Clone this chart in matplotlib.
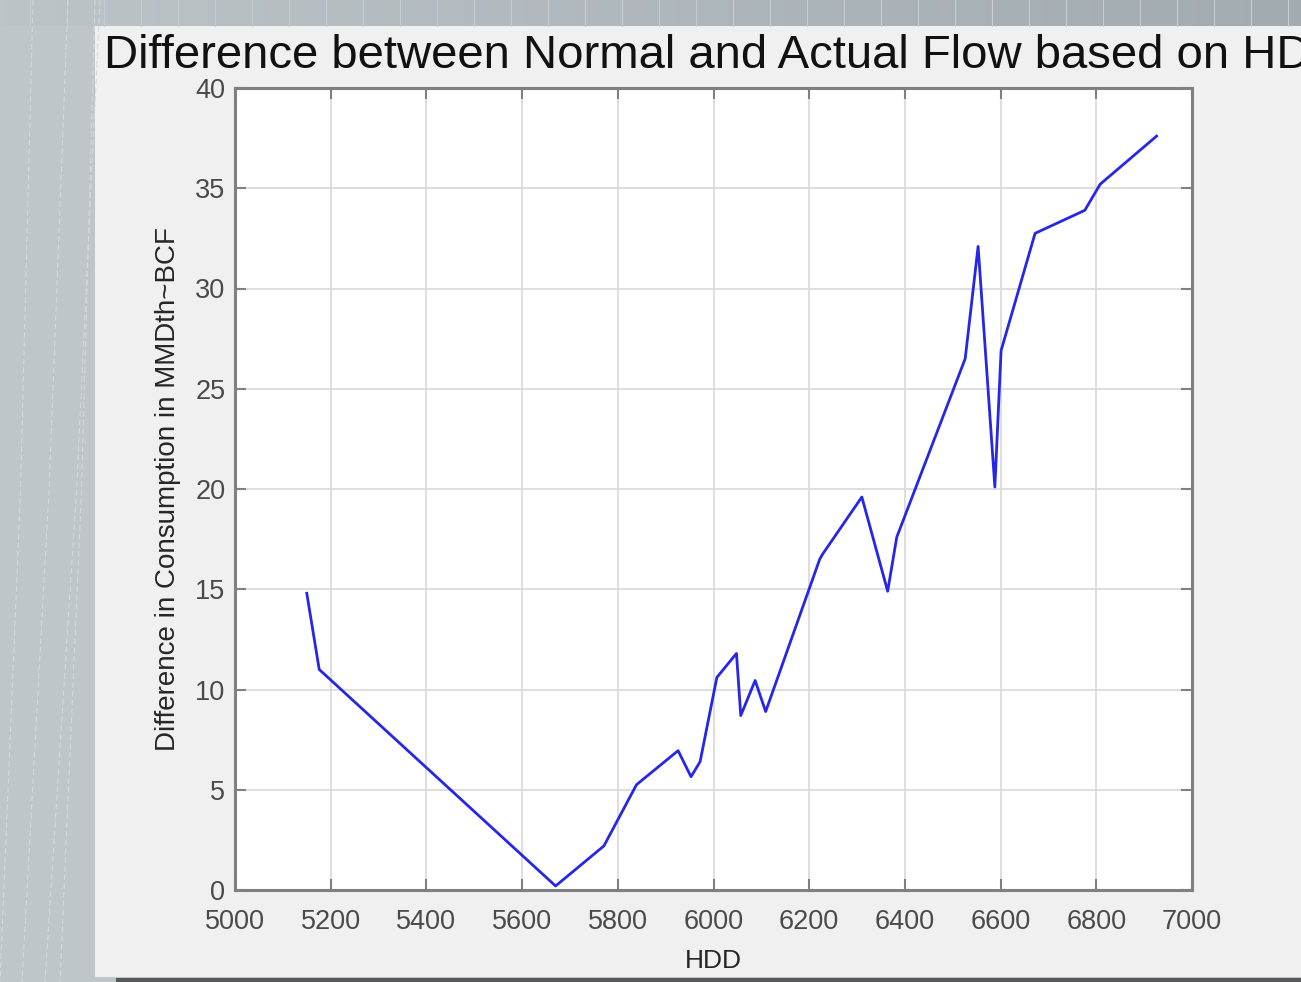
import matplotlib
matplotlib.use("Agg")
import matplotlib.pyplot as plt
import numpy as np
from matplotlib.patches import Rectangle

# HDD vs difference in consumption
hdd = [5150, 5176, 5670, 5771, 5839, 5926, 5953, 5972, 6007, 6048, 6057,
       6087, 6109, 6222, 6228, 6310, 6364, 6383, 6526, 6553, 6588, 6601,
       6672, 6776, 6808, 6926]
diff = [14.8, 11.0, 0.2, 2.2, 5.25, 6.95, 5.65, 6.4, 10.6, 11.8, 8.7,
        10.45, 8.9, 16.5, 16.75, 19.6, 14.9, 17.6, 26.5, 32.1, 20.1, 26.9,
        32.75, 33.9, 35.2, 37.6]

x_ticks = [5000, 5200, 5400, 5600, 5800, 6000, 6200, 6400, 6600, 6800, 7000]
y_ticks = [0, 5, 10, 15, 20, 25, 30, 35, 40]

title = "Difference between Normal and Actual Flow based on HDD"
x_label = "HDD"
y_label = "Difference in Consumption in MMDth~BCF"

plt.rcParams['font.family'] = ['Liberation Sans', 'DejaVu Sans']

W, H = 1301, 982
fig = plt.figure(figsize=(W / 100, H / 100), dpi=100)
fig.patch.set_facecolor('#bfc6ca')

# background (slide) drawn in pixel space
bg = fig.add_axes([0, 0, 1, 1], zorder=-10)
bg.set_xlim(0, W)
bg.set_ylim(H, 0)
bg.axis('off')
# top strip, lighter on the left and darker on the right
grad = np.linspace(0, 1, 256).reshape(1, -1)
bg.imshow(grad, extent=(0, W, 26, 0), aspect='auto',
          cmap=matplotlib.colors.LinearSegmentedColormap.from_list(
              'strip', ['#bcc4c8', '#a2abb0']))
for vx in range(30, W, 37):
    bg.plot([vx, vx], [0, 26], color='#c6cdd0', lw=0.8)
# faint streaks on the left
for x0, x1 in [(33, 0), (68, 22), (100, 45), (95, 60)]:
    bg.plot([x0, (x0 + x1) / 2 + 4, x1], [0, H / 2, H], color='#d4d9dc', lw=0.7,
            ls=(0, (6, 3)))
bg.add_patch(Rectangle((95, 26), W - 95, 951, color='#f0f0f0', lw=0))
bg.add_patch(Rectangle((116, 978), W - 116, 4, color='#55595c', lw=0))
bg.set_xlim(0, W)
bg.set_ylim(H, 0)

ax = fig.add_axes([235 / W, (H - 890) / H, 957 / W, 802 / H])
ax.set_facecolor('white')
ax.plot(hdd, diff, color='#2626e8', lw=2.0)

ax.set_xlim(5000, 7000)
ax.set_ylim(0, 40)
ax.set_xticks(x_ticks)
ax.set_yticks(y_ticks)
ax.grid(True, color='#d8d8d8', lw=1.2)
ax.set_axisbelow(True)
ax.tick_params(direction='in', length=8, width=1.5, colors='#808080',
               labelcolor='#4a4a4a', labelsize=19.5, top=True, right=True)
ax.tick_params(axis='x', pad=14)
ax.tick_params(axis='y', pad=7)
for s in ax.spines.values():
    s.set_color('#808080')
    s.set_linewidth(2.2)

ax.set_xlabel(x_label, fontsize=19, color='#262626', labelpad=10)
ax.set_ylabel(y_label, fontsize=20, color='#262626', labelpad=10)

fig.text(104 / W, 1 - 68 / H, title, fontsize=34, color='#111111',
         va='baseline', ha='left')

fig.savefig('out.png', dpi=100, facecolor=fig.get_facecolor())
